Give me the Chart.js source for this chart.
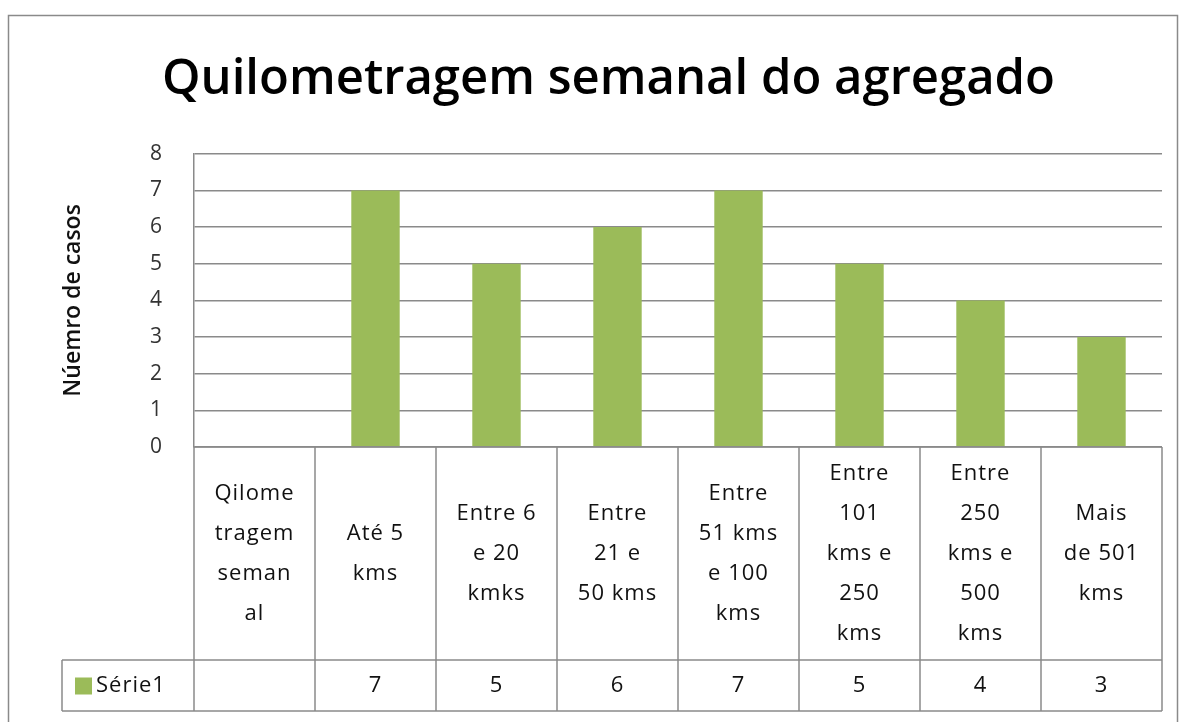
<!DOCTYPE html>
<html>
<head>
<meta charset="utf-8">
<script src="https://cdn.jsdelivr.net/npm/chart.js@4/dist/chart.umd.min.js"></script>
<style>
  html, body { margin: 0; padding: 0; background: #fff; }
  #wrap { width: 1184px; height: 722px; }
</style>
</head>
<body>
<div id="wrap"><canvas id="chart" width="1184" height="722"></canvas></div>
<script>
// categories as they wrap inside the data table cells
const categories = [
  ['Qilome', 'tragem', 'seman', 'al'],
  ['Até 5', 'kms'],
  ['Entre 6', 'e 20', 'kmks'],
  ['Entre', '21 e', '50 kms'],
  ['Entre', '51 kms', 'e 100', 'kms'],
  ['Entre', '101', 'kms e', '250', 'kms'],
  ['Entre', '250', 'kms e', '500', 'kms'],
  ['Mais', 'de 501', 'kms']
];
const serie1 = [null, 7, 5, 6, 7, 5, 4, 3];
const seriesName = 'Série1';
const yMin = 0, yMax = 8, yStep = 1;

const GREEN = '#9bbb59';
const LINE = '#8a8a8a';
const FONT = '"Open Sans", Lato, sans-serif';

// draws the outer frame and the Excel style data table below the plot
const tablePlugin = {
  id: 'dataTable',
  beforeDraw(chart) {
    const ctx = chart.ctx;
    ctx.save();
    ctx.strokeStyle = LINE;
    ctx.lineWidth = 1.5;
    ctx.strokeRect(8.5, 15.5, 1169, 720);
    ctx.restore();
  },
  afterDraw(chart) {
    const ctx = chart.ctx;
    const x = chart.scales.x;
    const area = chart.chartArea;
    const n = categories.length;
    const step = (area.right - area.left) / n;
    const top = area.bottom;
    const headBottom = 660;
    const rowBottom = 711;
    const legendLeft = 62;

    ctx.save();
    ctx.strokeStyle = LINE;
    ctx.lineWidth = 1.5;
    ctx.beginPath();
    ctx.moveTo(area.left, top); ctx.lineTo(area.right, top);
    ctx.moveTo(legendLeft, headBottom); ctx.lineTo(area.right, headBottom);
    ctx.moveTo(legendLeft, rowBottom); ctx.lineTo(area.right, rowBottom);
    for (let i = 0; i <= n; i++) {
      const px = area.left + i * step;
      ctx.moveTo(px, top); ctx.lineTo(px, rowBottom);
    }
    ctx.moveTo(legendLeft, headBottom); ctx.lineTo(legendLeft, rowBottom);
    ctx.stroke();

    ctx.fillStyle = '#111';
    ctx.font = '22px ' + FONT;
    ctx.letterSpacing = '1px';
    ctx.textAlign = 'center';
    ctx.textBaseline = 'middle';
    const lh = 40;
    const midHead = (top + headBottom) / 2;
    const midRow = (headBottom + rowBottom) / 2;
    categories.forEach((lines, i) => {
      const cx = x.getPixelForValue(i);
      const y0 = midHead - (lines.length - 1) * lh / 2;
      lines.forEach((t, j) => ctx.fillText(t, cx, y0 + j * lh));
      if (serie1[i] !== null) ctx.fillText(String(serie1[i]), cx, midRow);
    });

    // legend key
    ctx.fillStyle = GREEN;
    ctx.fillRect(75, midRow - 8, 17, 17);
    ctx.fillStyle = '#111';
    ctx.textAlign = 'left';
    ctx.fillText(seriesName, 96, midRow);
    ctx.restore();
  }
};

new Chart(document.getElementById('chart'), {
  type: 'bar',
  data: {
    labels: categories.map(c => c.join(' ')),
    datasets: [{
      label: seriesName,
      data: serie1,
      backgroundColor: GREEN,
      barPercentage: 0.8,
      categoryPercentage: 0.5
    }]
  },
  options: {
    responsive: false,
    animation: false,
    layout: { padding: { left: 55, right: 22, top: 0, bottom: 275 } },
    plugins: {
      legend: { display: false },
      tooltip: { enabled: false },
      title: {
        display: true,
        text: 'Quilometragem semanal do agregado',
        color: '#000',
        font: { family: FONT, size: 49, weight: '600' },
        padding: { top: 51, bottom: 44 }
      }
    },
    scales: {
      x: {
        ticks: { display: false },
        grid: { display: false },
        border: { display: false },
        afterFit(s) { s.height = 0; }
      },
      y: {
        min: yMin,
        max: yMax,
        ticks: { stepSize: yStep, color: '#333', padding: 32, font: { family: FONT, size: 21 } },
        grid: { color: LINE, lineWidth: 1.5, drawTicks: false },
        border: { color: LINE, width: 1.5 },
        title: {
          display: true,
          text: 'Núemro de casos',
          color: '#111',
          font: { family: FONT, size: 23, weight: '600' },
          padding: { top: 5, bottom: 0 }
        },
        afterFit(s) { s.width = 139; }
      }
    }
  },
  plugins: [tablePlugin]
});
</script>
</body>
</html>
